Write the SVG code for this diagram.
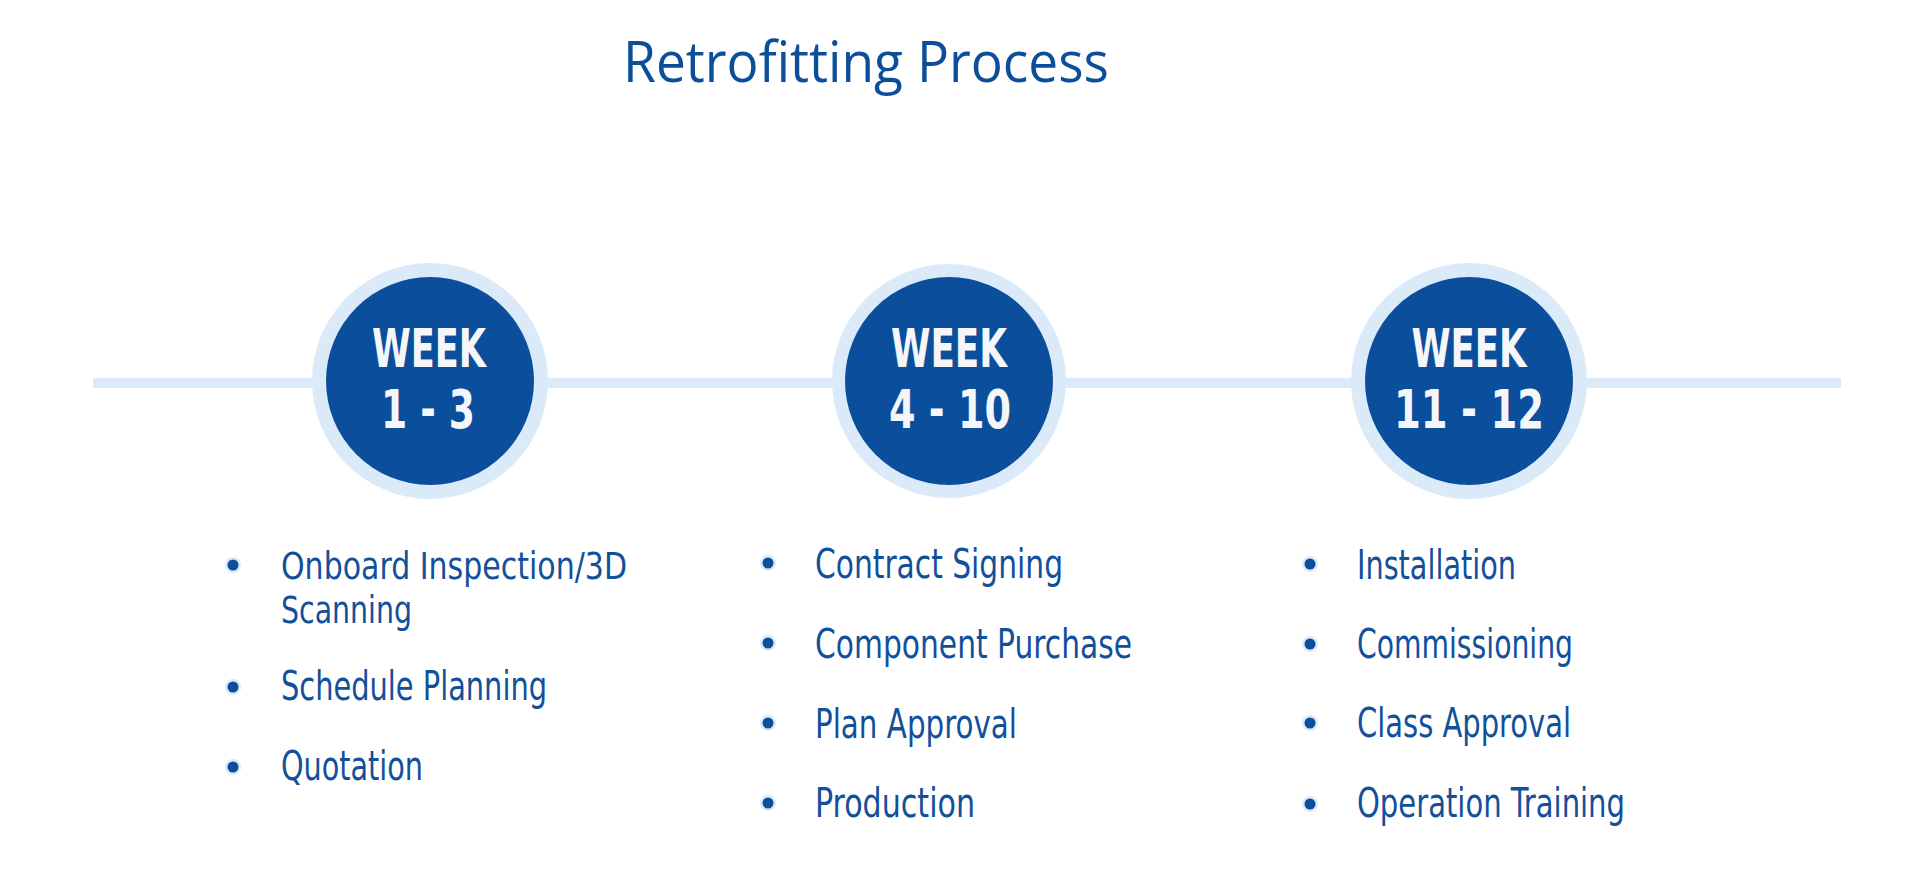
<svg xmlns="http://www.w3.org/2000/svg" width="1920" height="894" viewBox="0 0 1920 894">
  <style>
    .title { font-family: "Open Sans", "Noto Sans", "Liberation Sans", sans-serif; font-size: 56px; fill: #0d4e9a; }
    .ring { fill: #dbeaf9; }
    .core { fill: #0b4e9b; }
    .wk { font-family: "DejaVu Sans Condensed", "Liberation Sans Narrow", "Liberation Sans", sans-serif; font-weight: bold; font-size: 53px; fill: #f4f6f9; text-anchor: middle; }
    .item { font-family: "DejaVu Sans Condensed", "Liberation Sans Narrow", "Liberation Sans", sans-serif; font-size: 41px; fill: #13509a; }
    .wrap { font-size: 37px; }
    .halo { fill: #dce9f8; }
    .dot { fill: #0b4e9b; }
    .conn { stroke: #daeaf9; stroke-width: 10; fill: none; }
  </style>
  <rect width="1920" height="894" fill="#ffffff"/>
  <text class="title" x="623" y="82" textLength="486" lengthAdjust="spacingAndGlyphs">Retrofitting Process</text>

  <g id="connectors">
    <line class="conn" x1="93" y1="383" x2="320" y2="383"/>
    <line class="conn" x1="540" y1="383" x2="840" y2="383"/>
    <line class="conn" x1="1058" y1="383" x2="1360" y2="383"/>
    <line class="conn" x1="1578" y1="383" x2="1841" y2="383"/>
  </g>

  <g id="week-1-3">
    <circle class="ring" cx="430" cy="381" r="118"/>
    <circle class="core" cx="430" cy="381" r="104"/>
    <text class="wk" x="429" y="367" textLength="114" lengthAdjust="spacingAndGlyphs">WEEK</text>
    <text class="wk" x="428" y="428" textLength="94" lengthAdjust="spacingAndGlyphs">1 - 3</text>
  </g>
  <g id="week-4-10">
    <circle class="ring" cx="949" cy="381" r="117"/>
    <circle class="core" cx="949" cy="381" r="104"/>
    <text class="wk" x="949" y="367" textLength="116" lengthAdjust="spacingAndGlyphs">WEEK</text>
    <text class="wk" x="950" y="428" textLength="122" lengthAdjust="spacingAndGlyphs">4 - 10</text>
  </g>
  <g id="week-11-12">
    <circle class="ring" cx="1469" cy="381" r="118"/>
    <circle class="core" cx="1469" cy="381" r="104"/>
    <text class="wk" x="1469" y="367" textLength="115" lengthAdjust="spacingAndGlyphs">WEEK</text>
    <text class="wk" x="1469" y="428" textLength="150" lengthAdjust="spacingAndGlyphs">11 - 12</text>
  </g>

  <g id="list-1">
    <circle class="halo" cx="233" cy="565" r="8"/><circle class="dot" cx="233" cy="565" r="5.5"/>
    <text class="item wrap"><tspan x="281" y="579" textLength="346" lengthAdjust="spacingAndGlyphs">Onboard Inspection/3D</tspan><tspan x="281" y="623" textLength="131" lengthAdjust="spacingAndGlyphs">Scanning</tspan></text>
    <circle class="halo" cx="233" cy="687" r="8"/><circle class="dot" cx="233" cy="687" r="5.5"/>
    <text class="item" x="281" y="700" textLength="266" lengthAdjust="spacingAndGlyphs">Schedule Planning</text>
    <circle class="halo" cx="233" cy="767" r="8"/><circle class="dot" cx="233" cy="767" r="5.5"/>
    <text class="item" x="281" y="780" textLength="142" lengthAdjust="spacingAndGlyphs">Quotation</text>
  </g>

  <g id="list-2">
    <circle class="halo" cx="768" cy="563" r="8"/><circle class="dot" cx="768" cy="563" r="5.5"/>
    <text class="item" x="815" y="578" textLength="248" lengthAdjust="spacingAndGlyphs">Contract Signing</text>
    <circle class="halo" cx="768" cy="643" r="8"/><circle class="dot" cx="768" cy="643" r="5.5"/>
    <text class="item" x="815" y="658" textLength="317" lengthAdjust="spacingAndGlyphs">Component Purchase</text>
    <circle class="halo" cx="768" cy="723" r="8"/><circle class="dot" cx="768" cy="723" r="5.5"/>
    <text class="item" x="815" y="738" textLength="202" lengthAdjust="spacingAndGlyphs">Plan Approval</text>
    <circle class="halo" cx="768" cy="803" r="8"/><circle class="dot" cx="768" cy="803" r="5.5"/>
    <text class="item" x="815" y="817" textLength="160" lengthAdjust="spacingAndGlyphs">Production</text>
  </g>

  <g id="list-3">
    <circle class="halo" cx="1310" cy="564" r="8"/><circle class="dot" cx="1310" cy="564" r="5.5"/>
    <text class="item" x="1357" y="579" textLength="159" lengthAdjust="spacingAndGlyphs">Installation</text>
    <circle class="halo" cx="1310" cy="644" r="8"/><circle class="dot" cx="1310" cy="644" r="5.5"/>
    <text class="item" x="1357" y="658" textLength="216" lengthAdjust="spacingAndGlyphs">Commissioning</text>
    <circle class="halo" cx="1310" cy="723" r="8"/><circle class="dot" cx="1310" cy="723" r="5.5"/>
    <text class="item" x="1357" y="737" textLength="214" lengthAdjust="spacingAndGlyphs">Class Approval</text>
    <circle class="halo" cx="1310" cy="804" r="8"/><circle class="dot" cx="1310" cy="804" r="5.5"/>
    <text class="item" x="1357" y="817" textLength="268" lengthAdjust="spacingAndGlyphs">Operation Training</text>
  </g>
</svg>
